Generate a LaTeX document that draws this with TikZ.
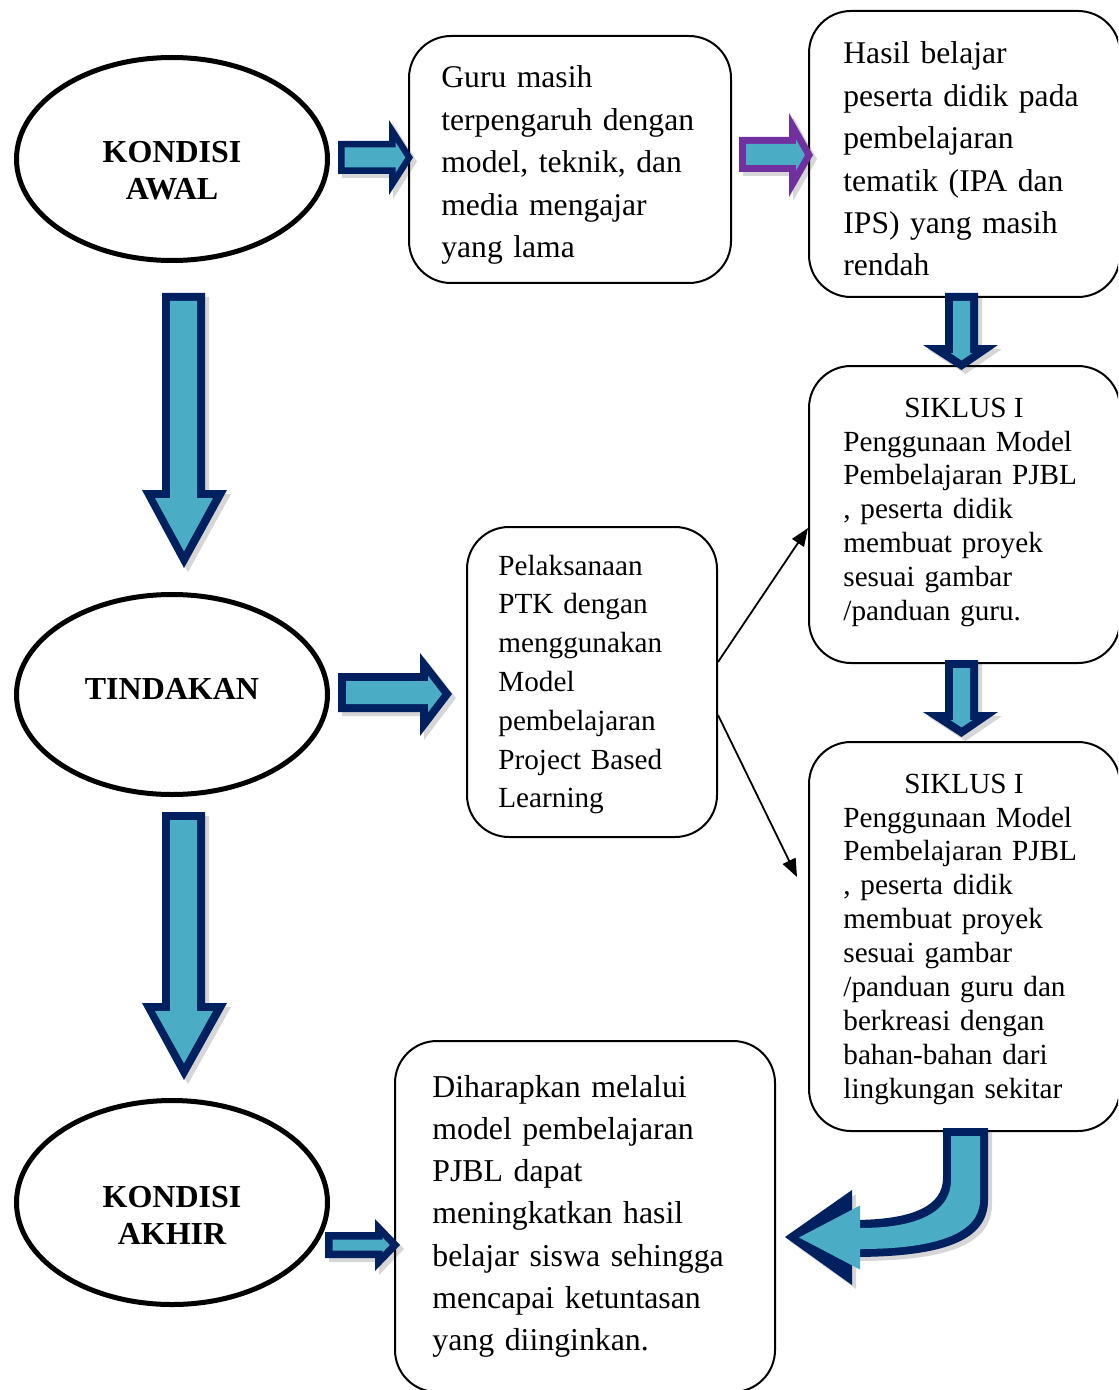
\documentclass[tikz,border=0pt]{standalone}
\usepackage{fontspec}
\setmainfont{Liberation Serif}
\usetikzlibrary{shapes.geometric,arrows.meta,calc}
\definecolor{afill}{HTML}{4BACC6}
\definecolor{aline}{HTML}{002060}
\definecolor{apurple}{HTML}{7030A0}
\newcommand\blockarrow[3]{%
  \fill[black, opacity=.16, shift={(4,4)}] #1;
  \fill[#3] #1;
  \fill[afill] #2;}
\begin{document}
\begin{tikzpicture}[x=0.5pt,y=-0.5pt,
  box/.style={draw, line width=1pt, rounded corners=21pt, inner sep=0pt},
  oval/.style={draw, ellipse, line width=2.5pt, inner sep=0pt},
  thinarr/.style={line width=0.9pt, -{Triangle[length=9pt,width=7pt]}},
  tbig/.style={anchor=base west, inner sep=0pt, align=left, text width=220pt, font=\fontsize{15.8}{21.2}\selectfont},
  tsml/.style={anchor=base west, inner sep=0pt, align=left, text width=220pt, font=\fontsize{14.6}{16.95}\selectfont},
  tptk/.style={anchor=base west, inner sep=0pt, align=left, text width=220pt, font=\fontsize{14.6}{19.4}\selectfont},
  tbot/.style={anchor=base west, inner sep=0pt, align=left, text width=220pt, font=\fontsize{15.9}{21.15}\selectfont},
  tov/.style={anchor=base, inner sep=0pt, align=center, text width=200pt, font=\fontsize{16}{18.5}\selectfont\bfseries},
  ttl/.style={anchor=base, inner sep=0pt, font=\fontsize{14.6}{16.95}\selectfont}]
\useasboundingbox (0,0) rectangle (1118,1390);
\clip (0,0) rectangle (1118,1390);

% ovals
\node[oval, minimum width=155.5pt, minimum height=101.5pt] (e1) at (172,159) {};
\node[oval, minimum width=155.5pt, minimum height=100pt] (e2) at (172,694.5) {};
\node[oval, minimum width=155.5pt, minimum height=102pt] (e3) at (172,1202.5) {};
\node[tov] (l1) at (172,163) {KONDISI\\AWAL};
\node[tov] (l2) at (172,699) {TINDAKAN};
\node[tov] (l3) at (172,1207) {KONDISI\\AKHIR};

% boxes
\node[box, minimum width=161pt, minimum height=123.5pt] (b1) at (570,159.5) {};
\node[box, minimum width=155.5pt, minimum height=143pt] (b2) at (964.5,154) {};
\node[box, minimum width=155.5pt, minimum height=148.5pt] (s1) at (964.5,514.5) {};
\node[box, minimum width=155.5pt, minimum height=194.5pt] (s2) at (964.5,936.5) {};
\node[box, minimum width=125pt, minimum height=155pt] (ptk) at (592,682) {};
\node[box, minimum width=190pt, minimum height=175.5pt] (bt) at (585,1216.5) {};

% texts
\node[tbig] (tb1) at (441,88) {Guru masih\\terpengaruh dengan\\model, teknik, dan\\media mengajar\\yang lama};
\node[tbig] (tb2) at (843,64) {Hasil belajar\\peserta didik pada\\pembelajaran\\tematik (IPA dan\\IPS) yang masih\\rendah};
\node[ttl] (hs1) at (964,417) {SIKLUS I};
\node[tsml] (ts1) at (843,451) {Penggunaan Model\\Pembelajaran PJBL\\, peserta didik\\membuat proyek\\sesuai gambar\\/panduan guru.};
\node[ttl] (hs2) at (964,793) {SIKLUS I};
\node[tsml] (ts2) at (843,827) {Penggunaan Model\\Pembelajaran PJBL\\, peserta didik\\membuat proyek\\sesuai gambar\\/panduan guru dan\\berkreasi dengan\\bahan-bahan dari\\lingkungan sekitar};
\node[tptk] (tp) at (498,575) {Pelaksanaan\\PTK dengan\\menggunakan\\Model\\pembelajaran\\Project Based\\Learning};
\node[tbot] (tbt) at (432,1097) {Diharapkan melalui\\model pembelajaran\\PJBL dapat\\meningkatkan hasil\\belajar siswa sehingga\\mencapai ketuntasan\\yang diinginkan.};

% thin connectors
\coordinate (c2) at (797,877);
\draw[thinarr] ([yshift=10pt]ptk.east) -- ([yshift=-6.75pt]s1.west);
\draw[thinarr] ([yshift=-16.5pt]ptk.east) -- (c2);

% block arrows
\blockarrow{(338,141) -- (389,141) -- (389,120) -- (413,157.5) -- (389,195) -- (389,174) -- (338,174) -- cycle}
  {(344.5,147.5) -- (395.5,147.5) -- (395.5,142.2) -- (405.3,157.5) -- (395.5,172.8) -- (395.5,167.5) -- (344.5,167.5) -- cycle}{aline}
\blockarrow{(739,137) -- (789,137) -- (789,113) -- (813,155) -- (789,197) -- (789,172) -- (739,172) -- cycle}
  {(746,144) -- (796,144) -- (796,139.4) -- (804.9,155) -- (796,170.6) -- (796,165) -- (746,165) -- cycle}{apurple}
\blockarrow{(162,293) -- (205,293) -- (205,490) -- (227,490) -- (184,568) -- (142,490) -- (162,490) -- cycle}
  {(170,301) -- (197,301) -- (197,498) -- (213,498) -- (184,551.3) -- (155,498) -- (170,498) -- cycle}{aline}
\blockarrow{(162,812) -- (205,812) -- (205,1003) -- (227,1003) -- (184,1080) -- (142,1003) -- (162,1003) -- cycle}
  {(170,820) -- (197,820) -- (197,1011) -- (213,1011) -- (184,1063.3) -- (155,1011) -- (170,1011) -- cycle}{aline}
\blockarrow{(945,293) -- (978,293) -- (978,345) -- (998,345) -- (961.5,370) -- (923,345) -- (945,345) -- cycle}
  {(953,301) -- (970,301) -- (970,353) -- (972.6,353) -- (961.5,360.4) -- (950.4,353) -- (953,353) -- cycle}{aline}
\blockarrow{(945,660) -- (978,660) -- (978,712) -- (998,712) -- (961.5,737) -- (923,712) -- (945,712) -- cycle}
  {(953,668) -- (970,668) -- (970,720) -- (972.6,720) -- (961.5,727.4) -- (950.4,720) -- (953,720) -- cycle}{aline}
\blockarrow{(338,673) -- (420,673) -- (420,653) -- (452,694) -- (420,736) -- (420,712) -- (338,712) -- cycle}
  {(346,681) -- (428,681) -- (428,675.7) -- (442,694) -- (428,712.3) -- (428,704) -- (346,704) -- cycle}{aline}
\blockarrow{(325,1232) -- (375,1232) -- (375,1219) -- (400,1245) -- (375,1271) -- (375,1258) -- (325,1258) -- cycle}
  {(332.5,1239.5) -- (382.5,1239.5) -- (382.5,1237.4) -- (389.7,1245) -- (382.5,1252.6) -- (382.5,1250.5) -- (332.5,1250.5) -- cycle}{aline}
\blockarrow{(943,1128) -- (988,1128) -- (988,1200) .. controls (988,1240) and (945,1257) .. (852,1257) -- (852,1285) -- (785,1237) -- (852,1190) -- (852,1220) .. controls (915,1220) and (943,1205) .. (943,1178) -- cycle}
  {(951,1136) -- (980,1136) -- (980,1200) .. controls (980,1232) and (940,1249) .. (860,1249) -- (860,1269.5) -- (799,1237.5) -- (860,1205.5) -- (860,1228) .. controls (918,1228) and (951,1212) .. (951,1180) -- cycle}{aline}
\end{tikzpicture}
\end{document}
